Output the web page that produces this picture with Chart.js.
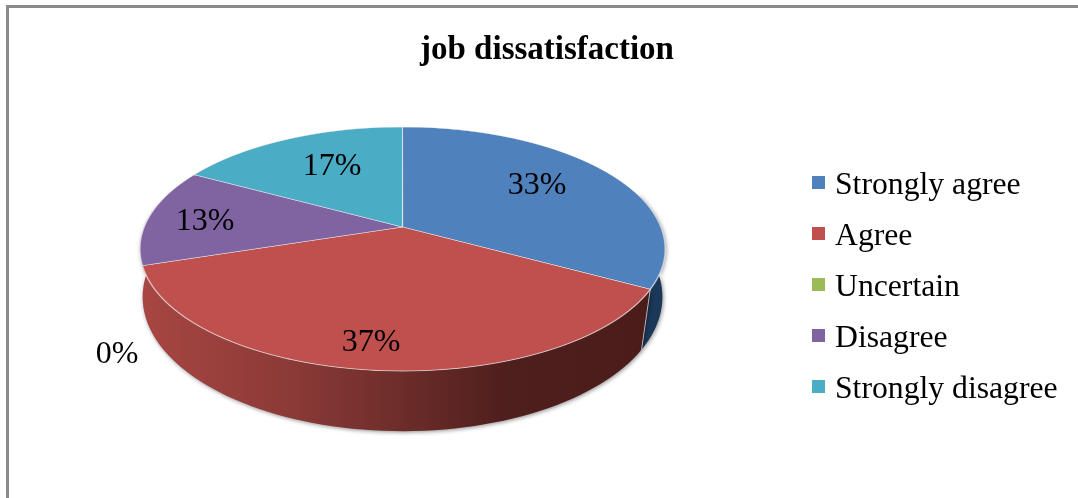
<!DOCTYPE html>
<html>
<head>
<meta charset="utf-8">
<title>job dissatisfaction</title>
<script src="https://cdn.jsdelivr.net/npm/chart.js@4/dist/chart.umd.min.js"></script>
<style>
html, body { margin: 0; padding: 0; background: #fff; overflow: hidden; }
#frame { position: absolute; left: 6px; top: 5px; width: 1072px; height: 493px; border-left: 3px solid #8a8a8a; border-top: 3px solid #8a8a8a; box-sizing: border-box; }
canvas { position: absolute; left: 0; top: 0; }
</style>
</head>
<body>
<div id="frame"></div>
<canvas id="myChart" width="1078" height="498"></canvas>
<script>
const categories = ['Strongly agree', 'Agree', 'Uncertain', 'Disagree', 'Strongly disagree'];
const shares = [33, 37, 0, 13, 17];
const sliceColors = ['#4f81bd', '#c0504d', '#9bbb59', '#8064a2', '#4bacc6'];
const titleText = 'job dissatisfaction';

// where each percent label sits, canvas pixels (centre of the text)
const labelSpots = [[537, 186], [371, 343], [117, 355], [205, 222], [332, 167]];

const serif = '"Liberation Serif", "Times New Roman", serif';

// perspective of the top disc: unit circle (u, v) -> picture
const persp = { cx: 402.5, cy: 249, a: 258.2, b: 122, c: -22, k: -0.1803 };
// outline of the bottom disc, read from the lower edge of the wall
const base = { cy: 297, sx: 0.99, sy: 1.1, twist: 0.07 };

function rim(angle, low) {
    const t = low ? angle + base.twist * Math.cos(angle) : angle;
    const u = Math.cos(t), v = Math.sin(t);
    const d = 1 + persp.k * v;
    const x = persp.a * u / d;
    const y = (persp.b * v + persp.c) / d;
    if (low) {
        return [persp.cx + x * base.sx, base.cy + y * base.sy];
    }
    return [persp.cx + x, persp.cy + y];
}

function wallPath(ctx, from, to) {
    const steps = 80;
    ctx.beginPath();
    for (let i = 0; i <= steps; i++) {
        const p = rim(from + (to - from) * i / steps, false);
        ctx.lineTo(p[0], p[1]);
    }
    for (let i = steps; i >= 0; i--) {
        const p = rim(from + (to - from) * i / steps, true);
        ctx.lineTo(p[0], p[1]);
    }
    ctx.closePath();
}

const pie3d = {
    id: 'pie3d',
    beforeDatasetsDraw(chart) {
        const ctx = chart.ctx;
        const arcs = chart.getDatasetMeta(0).data;
        const R = arcs[0].outerRadius, ox = arcs[0].x, oy = arcs[0].y;

        // side wall, only blue and red face the viewer
        const redFill = ctx.createLinearGradient(140, 0, 645, 0);
        redFill.addColorStop(0, '#a84642');
        redFill.addColorStop(0.3, '#8b3a37');
        redFill.addColorStop(0.5, '#6f2e2b');
        redFill.addColorStop(0.72, '#4f1f1d');
        redFill.addColorStop(1, '#4a1c1a');

        ctx.save();
        ctx.shadowColor = 'rgba(0,0,0,0.45)';
        ctx.shadowBlur = 4;
        ctx.shadowOffsetX = 1;
        ctx.shadowOffsetY = 1;
        ctx.fillStyle = '#1b3759';
        wallPath(ctx, -0.3, arcs[0].endAngle);
        ctx.fill();
        ctx.fillStyle = redFill;
        wallPath(ctx, arcs[1].startAngle, Math.PI + 0.2);
        ctx.fill();
        ctx.restore();

        // pale edge between the two walls
        const e1 = rim(arcs[0].endAngle, false), e2 = rim(arcs[0].endAngle, true);
        ctx.save();
        ctx.strokeStyle = 'rgba(225,225,225,0.7)';
        ctx.lineWidth = 1;
        ctx.beginPath();
        ctx.moveTo(e1[0], e1[1]);
        ctx.lineTo(e2[0], e2[1]);
        ctx.stroke();
        ctx.restore();

        // top disc, the library's arcs drawn row by row through the perspective
        const top = persp.cy - persp.b, bottom = persp.cy + persp.b;
        for (let row = Math.floor(top) - 1; row <= Math.ceil(bottom) + 1; row++) {
            const y = row + 0.5 - persp.cy;
            const v = (y - persp.c) / (persp.b - persp.k * y);
            const d = 1 + persp.k * v;
            const sx = persp.a / d / R;
            const sy = (persp.b - persp.c * persp.k) / (d * d) / R;
            ctx.save();
            ctx.beginPath();
            ctx.rect(0, row, chart.width, 1);
            ctx.clip();
            ctx.setTransform(sx, 0, 0, sy, persp.cx - ox * sx, row + 0.5 - (oy + v * R) * sy);
            arcs.forEach(function (arc) { arc.draw(ctx); });
            ctx.restore();
        }
        return false;
    },
    afterDraw(chart) {
        const ctx = chart.ctx;
        const colors = chart.data.datasets[0].backgroundColor;
        ctx.save();

        // percent labels
        ctx.fillStyle = '#000';
        ctx.font = '32px ' + serif;
        ctx.textAlign = 'center';
        ctx.textBaseline = 'middle';
        chart.data.datasets[0].data.forEach(function (val, i) {
            ctx.fillText(val + '%', labelSpots[i][0], labelSpots[i][1]);
        });

        // legend
        ctx.font = '31.7px ' + serif;
        ctx.textAlign = 'left';
        ctx.textBaseline = 'alphabetic';
        chart.data.labels.forEach(function (name, i) {
            const y = 176 + i * 51;
            ctx.fillStyle = colors[i];
            ctx.fillRect(812, y, 13, 13);
            ctx.fillStyle = '#000';
            ctx.fillText(name, 835, y + 18);
        });
        ctx.restore();
    }
};

const data = {
    labels: categories,
    datasets: [{
        data: shares,
        backgroundColor: sliceColors,
        borderColor: 'rgba(235,235,235,0.75)',
        borderWidth: 1,
    }],
};

const config = {
    type: 'pie',
    data: data,
    options: {
        responsive: false,
        animation: false,
        events: [],
        layout: { padding: { left: 16 } },
        plugins: {
            legend: { display: false },
            tooltip: { enabled: false },
            title: {
                display: true,
                text: titleText,
                color: '#000',
                font: { family: serif, size: 33, weight: 'bold' },
                padding: { top: 31, bottom: 10 },
            },
        },
    },
    plugins: [pie3d],
};

const myChart = new Chart(document.getElementById('myChart'), config);
</script>
</body>
</html>
